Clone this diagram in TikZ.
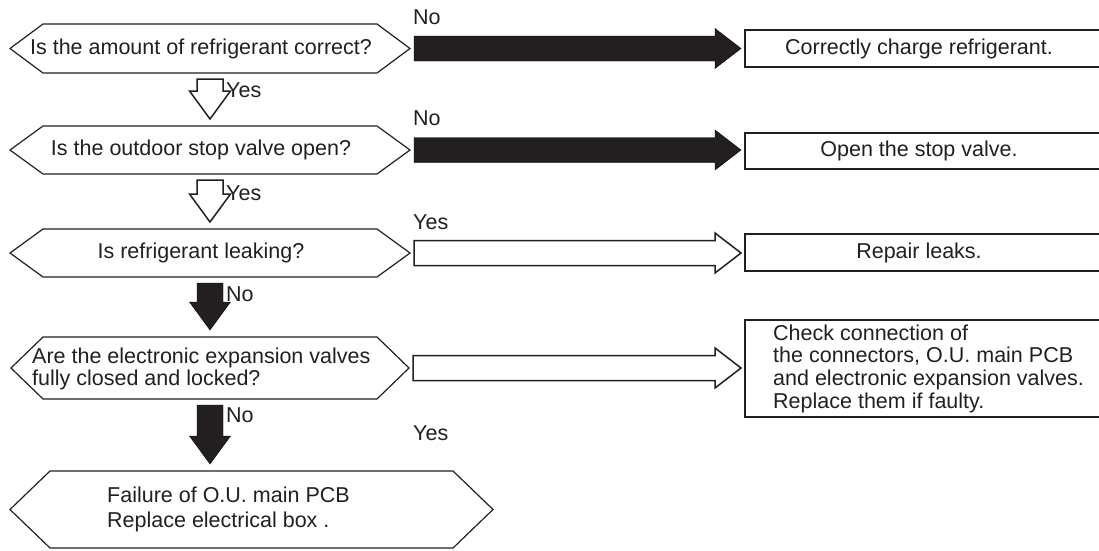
\documentclass[tikz,border=0pt]{standalone}
\usepackage{fontspec}
\setmainfont{Liberation Sans}
\usepackage{xcolor}
\usepackage{tikz}
\usetikzlibrary{calc,positioning}

\definecolor{ink}{RGB}{35,31,32}

\tikzset{
    hexa/.style={line width=1.2pt, draw=ink, line join=miter},
    answer/.style={line width=2pt, draw=ink},
    txt/.style={inner sep=0pt, text=ink},
    blkright/.style={
        fill=ink,
        to path={let \p1=(\tikztostart), \p2=(\tikztotarget) in
            (\x1+4pt,\y1+12.5pt) -- (\x2-30pt,\y1+12.5pt) -- (\x2-30pt,\y1+20pt)
            -- (\x2-4pt,\y1) -- (\x2-30pt,\y1-20pt) -- (\x2-30pt,\y1-12.5pt)
            -- (\x1+4pt,\y1-12.5pt) -- cycle}},
    openright/.style={blkright, fill=white, draw=ink, line width=1.5pt},
    blkdown/.style={
        fill=ink,
        to path={let \p1=(\tikztostart), \p2=(\tikztotarget) in
            (\x1-13pt,\y1-6pt) -- (\x1-13pt,\y2+35pt) -- (\x1-20.5pt,\y2+35pt)
            -- (\x1,\y2+7pt) -- (\x1+20.5pt,\y2+35pt) -- (\x1+13pt,\y2+35pt)
            -- (\x1+13pt,\y1-6pt) -- cycle}},
    opendown/.style={blkdown, fill=white, draw=ink, line width=1.5pt}
}

\begin{document}
\begin{tikzpicture}[
        x=1pt, y=-1pt,
        font=\fontsize{21.5}{22.7}\selectfont
    ]
    \useasboundingbox (0,0) rectangle (1099,550);

    % questions
    \foreach \nm/\xa/\xb/\ya/\yb/\tp in {q1/43/377/24/73/33, q2/43/377/126/174/33,
            q3/43/377/229/277/33, q4/43/377/337/399/32, q5/50/453/471/548/40}
        \draw[hexa] ({\xa-\tp},{(\ya+\yb)/2}) -- (\xa,\ya) -- coordinate (\nm-n) (\xb,\ya)
            -- ({\xb+\tp},{(\ya+\yb)/2}) coordinate (\nm-e) -- (\xb,\yb)
            -- coordinate (\nm-s) (\xa,\yb) -- cycle;

    \node[txt] (q1t) at (201,48.5) {Is the amount of refrigerant correct?};
    \node[txt] (q2t) at (201,150) {Is the outdoor stop valve open?};
    \node[txt] (q3t) at (201,253) {Is refrigerant leaking?};
    \node[txt, anchor=west, align=left] (q4t) at (32,369)
        {Are the electronic expansion valves\\fully closed and locked?};
    \node[txt, anchor=west, align=left] (q5t) at (107,509.5)
        {Failure of O.U. main PCB\\[3pt]Replace electrical box .};

    % answers
    \draw[answer] (745,30) coordinate (a1) rectangle (1110,67);
    \draw[answer] (745,133) coordinate (a2) rectangle (1110,169);
    \draw[answer] (745,234) coordinate (a3) rectangle (1110,271);
    \draw[answer] (745,320) coordinate (a4) rectangle (1110,417);

    \node[txt] (a1t) at (919,48.5) {Correctly charge refrigerant.};
    \node[txt] (a2t) at (919,151) {Open the stop valve.};
    \node[txt] (a3t) at (919,252.5) {Repair leaks.};
    \node[txt, anchor=west, align=left] (a4t) at (773,368.5)
        {Check connection of\\the connectors, O.U. main PCB\\and electronic expansion valves.\\Replace them if faulty.};

    % branches
    \draw[blkright] (q1-e) to (a1);
    \draw[blkright] (q2-e) to (a2);
    \draw[openright] (q3-e) to (a3);
    \draw[openright] (q4-e) to (a4);

    \draw[opendown] (q1-s) to (q2-n);
    \draw[opendown] (q2-s) to (q3-n);
    \draw[blkdown] (q3-s) to (q4-n);
    \draw[blkdown] (q4-s) to (q5-n);

    \node[txt, anchor=west] (no1) at (413,17) {No};
    \node[txt, anchor=west] (no2) at (413,118) {No};
    \node[txt, anchor=west] (yes3) at (413,222) {Yes};
    \node[txt, anchor=west] (yes4) at (413,433) {Yes};

    \node[txt, anchor=west] (yes1) at (226,90) {Yes};
    \node[txt, anchor=west] (yes2) at (226,193) {Yes};
    \node[txt, anchor=west] (no3) at (226,294) {No};
    \node[txt, anchor=west] (no4) at (226,415) {No};
\end{tikzpicture}
\end{document}
